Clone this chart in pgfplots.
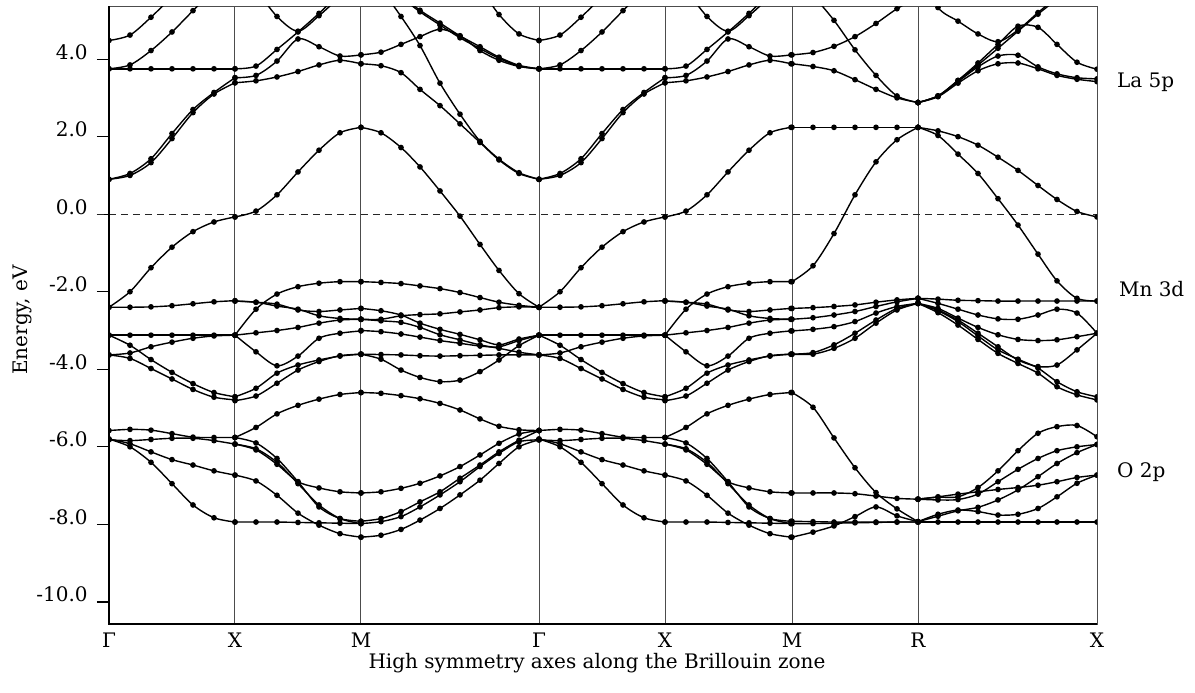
\documentclass[border=0pt]{standalone}
\usepackage{fontspec}
\setmainfont{DejaVu Serif}
\usepackage{pgfplots}
\usepackage{pgfplotstable}
\pgfplotsset{compat=1.18}

% Gamma-X segment (x in pixel units from Gamma)
\pgfplotstableread{
x U1 U2 U3 U4 F C1 M1 M2 M3 M4 M5 Ga Gb Gc Gd
0 0.90 0.90 3.75 4.48 3.75 -2.40 -2.40 -3.12 -3.63 -3.12 -3.63 -5.58 -5.82 -5.80 -5.80
21 1.05 1.00 3.85 4.62 3.75 -2.00 -2.40 -3.12 -3.58 -3.38 -3.72 -5.55 -5.84 -5.92 -6.00
42 1.43 1.33 4.22 5.08 3.75 -1.38 -2.39 -3.12 -3.42 -3.75 -3.98 -5.57 -5.81 -6.13 -6.40
63 2.08 1.95 4.70 5.60 3.75 -0.85 -2.36 -3.12 -3.30 -4.08 -4.25 -5.66 -5.78 -6.33 -6.95
84 2.70 2.62 5.25 6.00 3.75 -0.45 -2.31 -3.12 -3.20 -4.37 -4.52 -5.75 -5.78 -6.47 -7.50
105 3.14 3.10 5.80 6.30 3.75 -0.20 -2.26 -3.12 -3.14 -4.60 -4.72 -5.76 -5.84 -6.62 -7.83
126 3.52 3.39 6.30 6.50 3.75 -0.07 -2.23 -3.12 -3.12 -4.71 -4.79 -5.76 -5.93 -6.73 -7.94
}\GX

% X-M segment
\pgfplotstableread{
x XA XB XC XD C1 B1 B2 B3 B4 B5 B6 B7 Va Vb Vc Vd Ve Vf
126 3.75 6.50 3.52 3.39 -0.07 -3.12 -2.24 -2.24 -3.12 -3.12 -4.71 -4.81 -5.76 -5.93 -5.76 -5.93 -6.73 -7.94
147 3.82 5.80 3.58 3.44 0.08 -2.45 -2.27 -2.27 -3.06 -3.55 -4.49 -4.69 -5.50 -6.08 -5.90 -6.05 -6.88 -7.94
168 4.25 5.10 3.95 3.54 0.50 -2.06 -2.32 -2.37 -3.00 -3.91 -4.10 -4.36 -5.15 -6.45 -6.30 -6.40 -7.25 -7.94
189 4.70 4.72 4.52 3.68 1.09 -1.87 -2.47 -2.45 -2.92 -3.66 -3.89 -4.02 -4.93 -6.90 -6.90 -6.95 -7.71 -7.95
210 5.18 5.12 4.32 3.85 1.65 -1.78 -2.51 -2.62 -2.81 -3.20 -3.76 -3.80 -4.77 -7.06 -7.55 -7.50 -8.02 -7.96
231 5.70 5.60 4.08 3.97 2.10 -1.74 -2.47 -2.69 -2.73 -3.07 -3.66 -3.65 -4.65 -7.16 -7.85 -7.85 -8.24 -7.97
252 6.10 6.00 4.11 3.88 2.24 -1.74 -2.43 -2.71 -2.71 -3.01 -3.61 -3.61 -4.60 -7.19 -7.92 -7.98 -8.33 -7.98
}\XM

% M-Gamma segment
\pgfplotstableread{
x C1 Y388 SL1 H41 DL1 DL2 G45 MG1 MG2 MG3 MG4 MG5 MG6 MG7 Vg W1 W2 W3 W4
252 2.24 3.88 6.30 4.11 6.50 6.50 8.00 -1.74 -2.71 -2.43 -2.71 -3.00 -3.61 -3.61 -4.60 -7.19 -7.92 -7.98 -8.33
272 2.10 3.83 5.80 4.18 6.00 6.05 7.80 -1.76 -2.71 -2.49 -2.75 -3.03 -3.62 -3.74 -4.62 -7.16 -7.85 -7.93 -8.28
292 1.72 3.65 5.10 4.38 5.60 5.65 7.50 -1.79 -2.62 -2.60 -2.79 -3.09 -3.63 -4.02 -4.68 -7.07 -7.67 -7.80 -8.13
311 1.22 3.22 4.35 4.58 5.22 5.26 7.20 -1.85 -2.59 -2.81 -2.92 -3.17 -3.65 -4.21 -4.76 -6.94 -7.42 -7.55 -7.89
331 0.60 2.80 3.38 4.77 4.88 4.93 6.90 -1.92 -2.57 -2.97 -3.11 -3.26 -3.66 -4.32 -4.88 -6.75 -7.16 -7.24 -7.59
351 -0.05 2.33 2.58 4.60 4.55 4.60 6.50 -2.02 -2.52 -3.10 -3.24 -3.33 -3.65 -4.28 -5.05 -6.51 -6.81 -6.90 -7.24
371 -0.78 1.85 1.88 4.22 4.27 4.32 5.85 -2.15 -2.47 -3.24 -3.37 -3.40 -3.64 -4.06 -5.28 -6.21 -6.47 -6.51 -6.86
390 -1.45 1.40 1.42 3.97 4.02 4.05 5.15 -2.27 -2.41 -3.37 -3.46 -3.42 -3.63 -3.76 -5.47 -5.91 -6.13 -6.17 -6.43
410 -2.05 1.05 1.07 3.81 3.82 3.84 4.65 -2.35 -2.39 -3.22 -3.56 -3.26 -3.63 -3.39 -5.56 -5.67 -5.83 -5.87 -6.00
430 -2.40 0.90 0.90 3.75 3.75 3.75 4.48 -2.40 -2.40 -3.12 -3.63 -3.12 -3.63 -3.12 -5.58 -5.58 -5.58 -5.82 -5.82
}\MG

% M-R segment
\pgfplotstableread{
x C1 R1 Q41 SL2 Q388 N1 N2 N3 N4 N5 VR1 VR2 VR3 VR4 VR5
683 2.24 -1.74 4.11 6.30 3.88 -2.43 -2.71 -3.01 -3.61 -3.61 -4.60 -7.19 -8.33 -7.92 -7.98
704 2.24 -1.33 4.17 5.65 3.81 -2.41 -2.67 -2.97 -3.61 -3.57 -4.98 -7.19 -8.20 -7.93 -7.98
725 2.24 -0.50 4.33 5.00 3.70 -2.38 -2.60 -2.90 -3.46 -3.37 -5.77 -7.19 -8.04 -7.94 -7.97
746 2.24 0.50 4.58 4.24 3.47 -2.34 -2.51 -2.77 -3.20 -3.07 -6.54 -7.21 -7.80 -7.94 -7.96
767 2.24 1.35 4.92 3.58 3.22 -2.27 -2.38 -2.55 -2.81 -2.73 -7.18 -7.27 -7.55 -7.94 -7.95
788 2.24 1.92 5.30 3.05 3.00 -2.21 -2.26 -2.38 -2.47 -2.43 -7.60 -7.33 -7.78 -7.94 -7.94
809 2.24 2.24 5.60 2.88 2.88 -2.17 -2.17 -2.30 -2.30 -2.30 -7.93 -7.35 -7.93 -7.94 -7.94
}\MR

% R-X segment
\pgfplotstableread{
x SL3 RX1 RX2 RX3 RXT C1 R2 P1 P2 P3 P4 P5 P6 Y1 Y2 Y3 Y4 Y5 Y6
809 2.88 2.88 2.88 2.88 6.30 2.24 2.24 -2.17 -2.17 -2.30 -2.30 -2.30 -2.30 -7.35 -7.35 -7.93 -7.93 -7.35 -7.94
829 3.05 3.05 3.05 3.03 5.33 2.15 2.03 -2.19 -2.30 -2.43 -2.47 -2.49 -2.54 -7.30 -7.37 -7.79 -7.74 -7.29 -7.94
849 3.45 3.45 3.42 3.38 4.98 2.00 1.55 -2.22 -2.45 -2.68 -2.73 -2.77 -2.86 -7.29 -7.36 -7.65 -7.63 -7.22 -7.94
869 3.85 3.90 3.80 3.70 4.65 1.78 1.05 -2.23 -2.60 -2.92 -3.07 -3.14 -3.23 -7.05 -7.22 -7.56 -7.67 -7.16 -7.94
889 4.28 4.38 4.08 3.88 4.45 1.47 0.40 -2.24 -2.70 -3.11 -3.42 -3.50 -3.59 -6.62 -6.90 -7.37 -7.76 -7.10 -7.94
909 4.72 4.85 4.10 3.90 4.75 1.13 -0.28 -2.24 -2.71 -3.23 -3.76 -3.74 -3.85 -6.10 -6.58 -7.11 -7.74 -7.05 -7.94
929 5.16 4.82 3.80 3.75 5.20 0.74 -1.03 -2.24 -2.60 -3.26 -3.93 -3.97 -4.10 -5.65 -6.30 -6.77 -7.59 -6.99 -7.94
948 5.55 4.38 3.62 3.58 5.60 0.38 -1.72 -2.24 -2.45 -3.24 -3.89 -4.32 -4.45 -5.48 -6.10 -6.43 -7.29 -6.90 -7.94
968 6.00 3.92 3.52 3.48 6.00 0.07 -2.17 -2.24 -2.55 -3.16 -3.50 -4.58 -4.66 -5.45 -6.00 -6.15 -6.94 -6.79 -7.94
988 6.40 3.74 3.49 3.42 6.30 -0.07 -2.24 -2.24 -3.07 -3.07 -3.07 -4.71 -4.79 -5.74 -5.94 -5.94 -6.73 -6.73 -7.94
}\RX

\begin{document}
\begin{tikzpicture}
\begin{axis}[
  scale only axis, width=494pt, height=309pt,
  xmin=0, xmax=988, ymin=-10.57, ymax=5.37,
  clip mode=individual, clip marker paths=true,
  xtick={0,126,252,430,556,683,809,988},
  xticklabels={Γ,X,M,Γ,X,M,R,X},
  xmajorgrids, grid style={line width=0.5pt, black!70},
  xtick style={draw=none},
  ytick={-10,-8,-6,-4,-2,0,2,4},
  yticklabels={-10.0,-8.0,-6.0,-4.0,-2.0,0.0,2.0,4.0},
  ytick style={black, line width=0.6pt},
  tick align=outside, major tick length=6pt,
  ytick pos=left, xtick pos=bottom,
  axis line style={line width=0.5pt, black!70},
  yticklabel style={anchor=base east, inner sep=0pt, xshift=-4.5pt},
  xticklabel style={anchor=base, inner sep=0pt, yshift=-5.5pt},
  band/.style={black, line width=0.7pt, smooth, mark=*, mark size=1.05pt, mark options={solid}},
]
\coordinate (SW) at (rel axis cs:0,0);
\coordinate (NW) at (rel axis cs:0,1);
\coordinate (SE) at (rel axis cs:1,0);
\coordinate (NE) at (rel axis cs:1,1);
\draw[black!85, line width=0.5pt, dash pattern=on 3.5pt off 2.5pt] (axis cs:-12,0) -- (axis cs:988,0);

\pgfplotsinvokeforeach{U1,U2,U3,U4,F,C1,M1,M2,M3,M4,M5,Ga,Gb,Gc,Gd}{
  \addplot[band] table[x=x,y=#1]{\GX};
  \addplot[band] table[x expr=\thisrow{x}+430,y=#1]{\GX};
}
\pgfplotsinvokeforeach{XA,XB,XC,XD,C1,B1,B2,B3,B4,B5,B6,B7,Va,Vb,Vc,Vd,Ve,Vf}{
  \addplot[band] table[x=x,y=#1]{\XM};
  \addplot[band] table[x expr=\thisrow{x}+430,y=#1]{\XM};
}
\pgfplotsinvokeforeach{C1,Y388,SL1,H41,DL1,DL2,G45,MG1,MG2,MG3,MG4,MG5,MG6,MG7,Vg,W1,W2,W3,W4}{
  \addplot[band] table[x=x,y=#1]{\MG};
}
\pgfplotsinvokeforeach{C1,R1,Q41,SL2,Q388,N1,N2,N3,N4,N5,VR1,VR2,VR3,VR4,VR5}{
  \addplot[band] table[x=x,y=#1]{\MR};
}
\pgfplotsinvokeforeach{SL3,RX1,RX2,RX3,RXT,C1,R2,P1,P2,P3,P4,P5,P6,Y1,Y2,Y3,Y4,Y5,Y6}{
  \addplot[band] table[x=x,y=#1]{\RX};
}

\node[anchor=base west] at (axis cs:1001,3.26) {La 5p};
\node[anchor=base west] at (axis cs:1003,-2.13) {Mn 3d};
\node[anchor=base west] at (axis cs:1001,-6.80) {O 2p};
\node[anchor=base] at (axis cs:488,-11.71) {High symmetry axes along the Brillouin zone};
\node[rotate=90, anchor=center] at (axis cs:-87,-2.73) {Energy, eV};
\end{axis}
\draw[line width=1.1pt] (NW) -- (SW) -- (SE);
\pgfresetboundingbox
\path[use as bounding box] ([shift={(-54.5pt,-34pt)}]SW) rectangle ([shift={(49pt,3pt)}]NE);
\end{tikzpicture}
\end{document}
